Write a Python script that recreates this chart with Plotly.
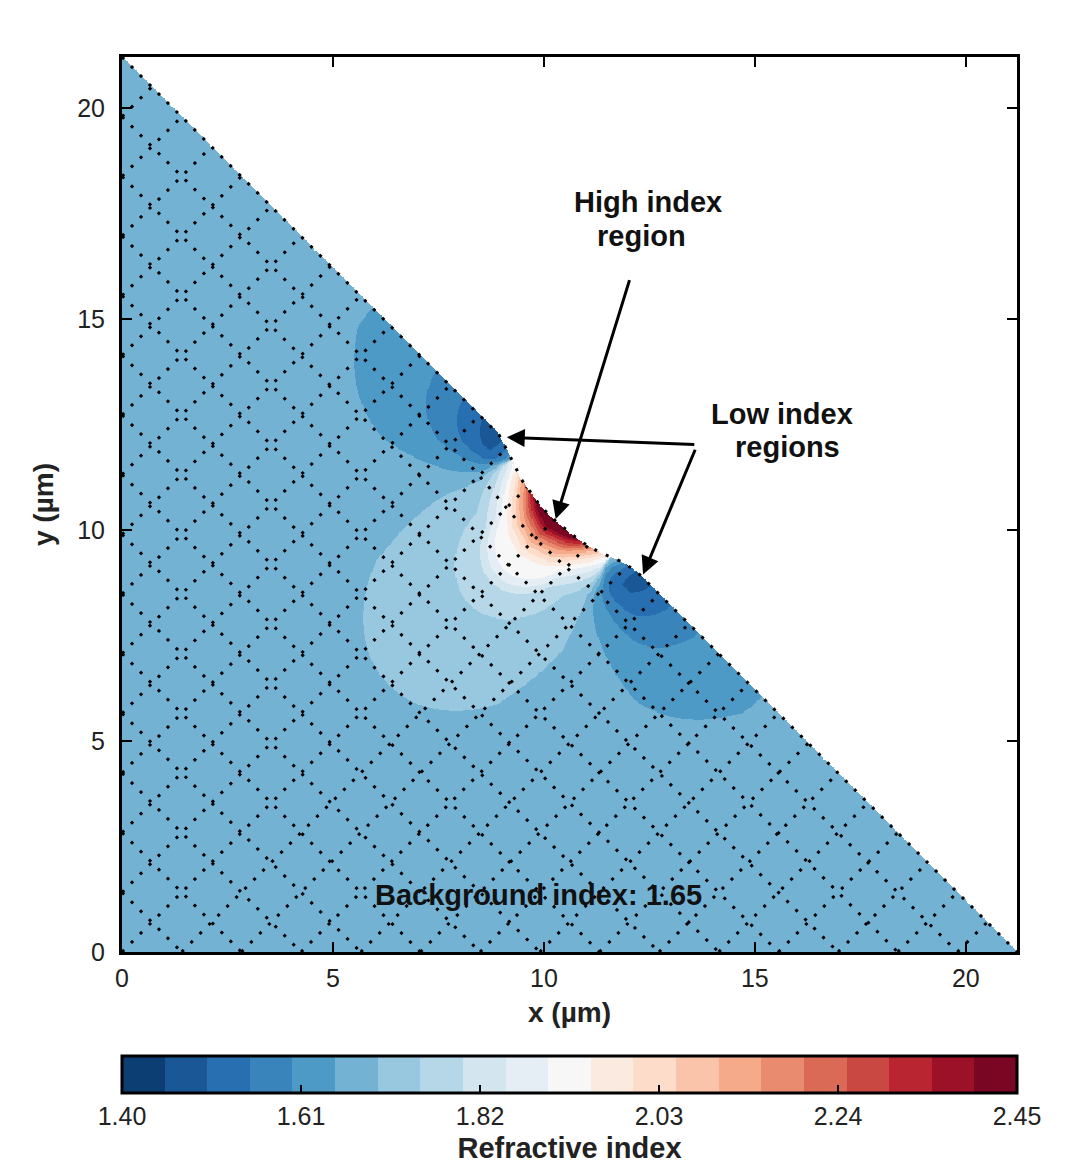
import numpy as np
import plotly.graph_objects as go

SQ2 = np.sqrt(2.0)

# ------------------------------------------------------------------
# Data
# ------------------------------------------------------------------
edge_v = 15.0                          # hypotenuse = rotated grid line v = 15  (x + y = 21.2 um)
x_max = edge_v * SQ2
axis_ticks = [0, 5, 10, 15, 20]

level_min, level_max, level_step = 1.40, 2.45, 0.05
cbar_tick_values = [1.40, 1.61, 1.82, 2.03, 2.24, 2.45]

n_background = 1.675                    # shown in the 1.65-1.70 band

# notch in the hypotenuse: position along the edge t (um) -> depth into the prism (um)
notch_t = [-2.4, -1.95, -1.6, -1.25, -0.85, -0.45, -0.05, 0.4, 0.8, 1.15, 1.5, 1.8, 2.2]
notch_depth = [0.0, 0.13, 0.26, 0.38, 0.46, 0.51, 0.52, 0.48, 0.43, 0.35, 0.23, 0.09, 0.0]

# high-index core along the notch: peak index vs position along the edge
core_t = [-2.3, -1.9, -1.5, -1.1, -0.55, 0.0, 0.6, 1.1, 1.5, 1.9, 2.3]
core_peak = [1.675, 1.78, 1.96, 2.16, 2.47, 2.62, 2.47, 2.16, 1.96, 1.78, 1.675]
core_decay_len = 0.95

# light lobe below the notch: diameter of contour oval (um) -> index
lobe_anchor_t, lobe_anchor_s = 0.0, -0.2
lobe_stretch = 1.25
lobe_diam = [0.7, 1.5, 2.38, 2.6, 2.81, 3.55, 6.25, 15.0, 80.0]
lobe_index = [2.02, 1.96, 1.90, 1.85, 1.80, 1.75, 1.70, 1.68, 1.675]

# two low-index lobes along the edge on both sides of the notch
dark_anchor_t = [-1.7, 1.55]
dark_anchor_s = [0.0, 0.1]
dark_direction = [-1, 1]
dark_stretch = [1.16, 1.10]
dark_diam = [0.5, 1.25, 1.85, 2.75, 4.9, 10.0, 40.0]
dark_shift = [-0.20, -0.175, -0.125, -0.075, -0.025, -0.008, 0.0]

grid_warp_len = 0.8

rdbu_r_anchors = ['#053061', '#2166ac', '#4393c3', '#92c5de', '#d1e5f0', '#f7f7f7',
                  '#fddbc7', '#f4a582', '#d6604d', '#b2182b', '#67001f']

# ------------------------------------------------------------------
# Colours of the 21 bands (RdBu_r sampled at band centres)
# ------------------------------------------------------------------
n_bands = int(round((level_max - level_min) / level_step))


def hex2rgb(h):
    h = h.lstrip('#')
    return np.array([int(h[i:i + 2], 16) for i in (0, 2, 4)], dtype=float)


anchor_rgb = np.array([hex2rgb(h) for h in rdbu_r_anchors])
anchor_pos = np.linspace(0, 1, len(rdbu_r_anchors))
band_colors = []
for i in range(n_bands):
    f = (i + 0.5) / n_bands
    rgb = [np.interp(f, anchor_pos, anchor_rgb[:, k]) for k in range(3)]
    band_colors.append('rgb(%d,%d,%d)' % tuple(int(round(c)) for c in rgb))

colorscale = []
for i, c in enumerate(band_colors):
    colorscale.append([i / n_bands, c])
    colorscale.append([(i + 1) / n_bands, c])

# ------------------------------------------------------------------
# Index field on a fine grid
# ------------------------------------------------------------------
N = 800
xs = (np.arange(N) + 0.5) * x_max / N
Xg, Yg = np.meshgrid(xs, xs)
T = (Xg - Yg) / SQ2
S = edge_v - (Xg + Yg) / SQ2
dep = np.interp(T, notch_t, notch_depth)
inside = S >= dep

db = np.clip(S - dep, 0, None)
P = np.interp(T, core_t, core_peak)
L_core = (P - n_background) * np.exp(-db / core_decay_len)

a = (T - lobe_anchor_t) * lobe_stretch
b = S - lobe_anchor_s
D = np.where(b > 1e-6, (a * a + b * b) / np.maximum(b, 1e-6), 1e6)
L_lobe = np.interp(D, lobe_diam, lobe_index) - n_background

dark = np.zeros_like(T)
for ta, sa, dr, ks in zip(dark_anchor_t, dark_anchor_s, dark_direction, dark_stretch):
    a = (T - ta) * dr
    b = (S - sa) * ks
    Dd = np.where(a > 1e-6, (a * a + b * b) / np.maximum(a, 1e-6), 1e6)
    dark = dark + np.interp(Dd, dark_diam, dark_shift)

n_field = n_background + np.maximum(L_core, L_lobe) + dark
band = np.clip(np.floor((n_field - level_min) / level_step + 1e-9), 0, n_bands - 1)
z = np.where(inside, band, np.nan).astype(np.float32)

# ------------------------------------------------------------------
# Dotted rotated grid (lines of constant u and v), bent by the notch
# ------------------------------------------------------------------


def to_xy(t, s):
    v = edge_v - s
    return (t + v) / SQ2, (v - t) / SQ2


def warp(t, s):
    return s + np.interp(t, notch_t, notch_depth) * np.exp(-s / grid_warp_len)


gx, gy = [], []
for m in range(-14, 15):
    v = np.linspace(abs(m), edge_v, 240)
    t = np.full_like(v, float(m))
    s = warp(t, edge_v - v)
    x, y = to_xy(t, s)
    gx += list(x) + [None]
    gy += list(y) + [None]
for k in range(1, 16):
    t = np.linspace(-k, k, 60 * k)
    s = warp(t, np.full_like(t, edge_v - k))
    x, y = to_xy(t, s)
    gx += list(x) + [None]
    gy += list(y) + [None]

# ------------------------------------------------------------------
# Figure
# ------------------------------------------------------------------
FONT = 'Liberation Sans, Arial, Helvetica, sans-serif'
fig = go.Figure()

fig.add_trace(go.Heatmap(
    x=xs, y=xs, z=z, zmin=-0.5, zmax=n_bands - 0.5, zsmooth=False,
    colorscale=colorscale, hoverinfo='skip',
    colorbar=dict(
        orientation='h', x=0.5, xanchor='center', y=-0.1162, yanchor='top',
        len=1.0, lenmode='fraction', thickness=37, thicknessmode='pixels',
        xpad=0, ypad=0, outlinewidth=3, outlinecolor='black',
        tickvals=[(v - level_min) / level_step - 0.5 for v in cbar_tick_values],
        ticktext=['%.2f' % v for v in cbar_tick_values],
        ticks='inside', ticklen=9, tickwidth=1.5, tickcolor='black',
        tickfont=dict(size=25, family=FONT, color='#222222'),
        title=dict(text='<b>Refractive index</b>', side='bottom',
                   font=dict(size=29, family=FONT, color='#222222')),
    ),
))

fig.add_trace(go.Scatter(
    x=gx, y=gy, mode='lines', hoverinfo='skip',
    line=dict(color='black', width=3, dash='3px,9.7px'),
))

axis_common = dict(
    range=[0, x_max], tickvals=axis_ticks, ticks='inside', ticklen=10, tickwidth=1.5,
    tickcolor='black', mirror='ticks', showline=True, linewidth=3, linecolor='black',
    showgrid=False, zeroline=False, tickfont=dict(size=25, family=FONT, color='#222222'),
)
fig.update_xaxes(**axis_common, ticklabelstandoff=2,
                 title=dict(text='<b>x (µm)</b>', standoff=12,
                            font=dict(size=28, family=FONT, color='#222222')))
fig.update_yaxes(**axis_common, ticklabelstandoff=9,
                 title=dict(text='<b>y (µm)</b>', standoff=16,
                            font=dict(size=28, family=FONT, color='#222222')))

text_font = dict(size=29, family=FONT, color='#111111')
text_items = [
    ('<b>High index</b>', 12.46, 17.77),
    ('<b>region</b>', 12.31, 16.97),
    ('<b>Low index</b>', 15.64, 12.74),
    ('<b>regions</b>', 15.78, 11.98),
    ('<b>Background index: 1.65</b>', 9.86, 1.35),
]
for txt, tx, ty in text_items:
    fig.add_annotation(x=tx, y=ty, text=txt, showarrow=False, font=text_font, borderpad=0)

arrow_style = dict(text='', showarrow=True, arrowhead=2, arrowsize=1.2, arrowwidth=3,
                   arrowcolor='black', axref='x', ayref='y', standoff=0, startstandoff=0)
fig.add_annotation(x=10.28, y=10.26, ax=12.04, ay=15.96, **arrow_style)
fig.add_annotation(x=9.12, y=12.20, ax=13.60, ay=12.03, **arrow_style)
fig.add_annotation(x=12.35, y=8.95, ax=13.60, ay=11.94, **arrow_style)

fig.update_layout(
    width=1066, height=1171,
    margin=dict(l=122, r=49, t=57, b=219, autoexpand=False),
    paper_bgcolor='white', plot_bgcolor='white',
    showlegend=False,
    font=dict(family=FONT, color='#222222'),
)

fig.write_html('out.html', config={'displayModeBar': False},
               post_script="document.body.style.margin='0px';")
